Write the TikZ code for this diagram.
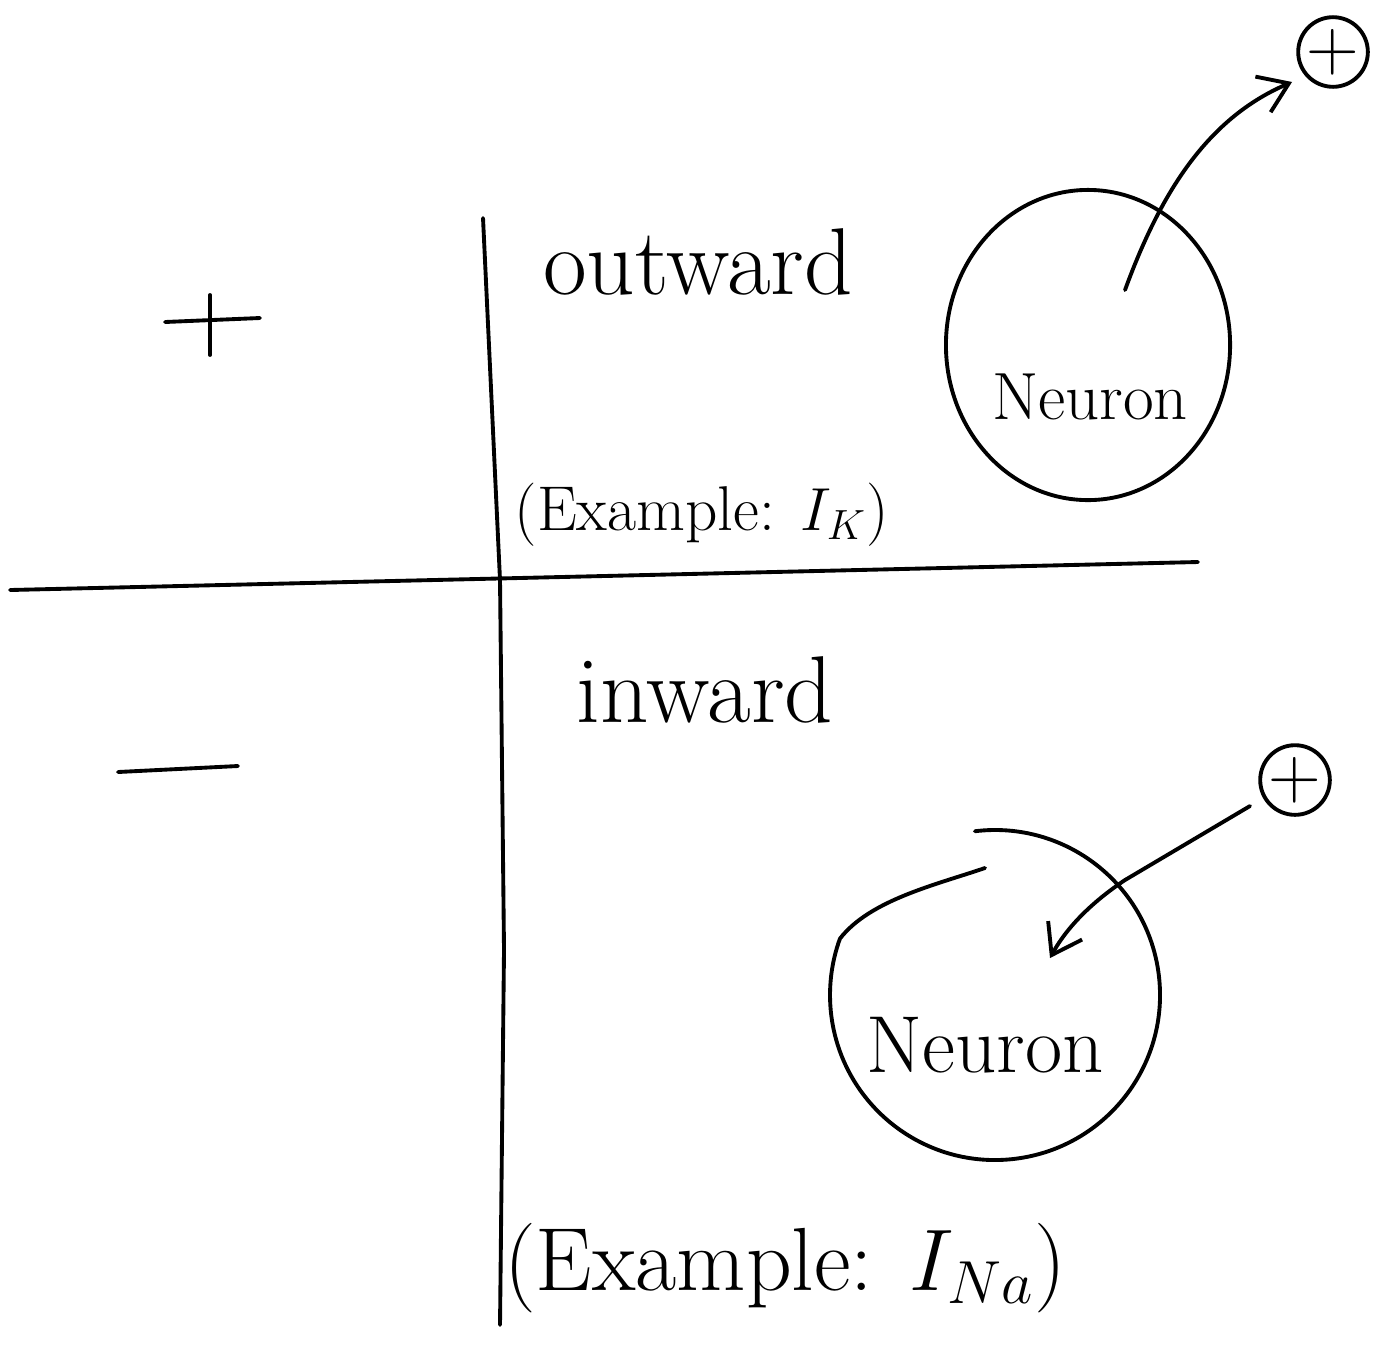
\documentclass[tikz,border=0pt]{standalone}
\usetikzlibrary{shapes.geometric,arrows.meta}
\begin{document}
\begin{tikzpicture}[x=0.01cm,y=-0.01cm,
  ink/.style={line width=1.1pt,line cap=round,line join=round},
  cell/.style={draw,ellipse,line width=1.1pt,inner sep=0pt},
  ion/.style={draw,circle,line width=1.1pt,inner sep=0pt,minimum size=0.68cm,font=\fontsize{20}{22}\selectfont},
  word/.style={inner sep=0pt,anchor=center},
  flow/.style={ink,-{Straight Barb[length=8pt,width=11pt,line width=1.1pt]}}]
\useasboundingbox (0,0) rectangle (1386,1345);
\fill[white] (0,0) rectangle (1386,1345);
% axes
\draw[ink] (483,218) -- (500,580) -- (504,950) -- (500,1325);
\draw[ink] (10,590) -- (1198,562);
% sign markers
\draw[ink] (165,322) -- (260,318);
\draw[ink] (210,295) -- (210,355);
\draw[ink] (118,772) -- (238,766);
% texts
\node[word,font=\fontsize{27}{30}\selectfont] (out) at (698,262) {outward};
\node[word,font=\fontsize{18}{21}\selectfont] (exK) at (702,515) {(Example: $I_{K}$)};
\node[word,font=\fontsize{27}{30}\selectfont] (in) at (705,690) {inward};
\node[word,font=\fontsize{25.5}{29}\selectfont] (exNa) at (785,1268) {(Example: $I_{Na}$)};
% top neuron
\node[cell,minimum width=2.84cm,minimum height=3.1cm] (n1) at (1088,345) {};
\node[word,font=\fontsize{19}{22}\selectfont] (n1t) at (1090,397) {Neuron};
\node[ion] (p1) at (1333,52) {$+$};
\coordinate (s1) at (1125,290);
\draw[flow] (s1) .. controls (1165,180) and (1215,115) .. (1292,82);
% bottom neuron
\coordinate (n2) at (995,995);
\draw[ink] (n2) ++(263:165) arc[start angle=263,end angle=560,radius=165] .. controls (870,900) and (935,885) .. (985,868);
\node[word,font=\fontsize{23}{26}\selectfont] (n2t) at (985,1045) {Neuron};
\node[ion] (p2) at (1295,780) {$+$};
\coordinate (s2) at (1250,806);
\draw[flow] (s2) -- (1125,880) .. controls (1095,900) and (1068,925) .. (1050,958);
\end{tikzpicture}
\end{document}
